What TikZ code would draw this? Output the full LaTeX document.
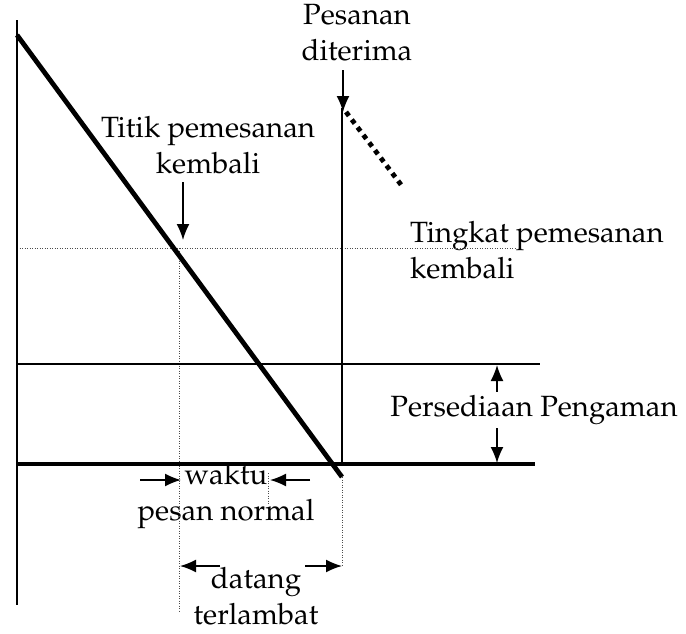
\documentclass[tikz,border=0pt]{standalone}
\usepackage[T1]{fontenc}
\usepackage{mathpazo}
\usetikzlibrary{arrows.meta}
\begin{document}
\begin{tikzpicture}[x=1pt,y=-1pt,
  lbl/.style={font=\fontsize{29.3}{36}\selectfont, align=center, inner sep=0pt},
  arr/.style={-{Latex[length=16pt,width=13pt]}, line width=1.6pt},
  thin dots/.style={line width=0.8pt, draw=black!70, dash pattern=on 1pt off 1.5pt},
  axis/.style={line width=2.2pt},
  thick axis/.style={line width=3.4pt}]
\useasboundingbox (0,0) rectangle (686,633);
% coordinates
\coordinate (axT) at (17,20);
\coordinate (axB) at (17,605);
\coordinate (dT) at (17,35);
\coordinate (dB) at (342,477);
\coordinate (vT) at (342,108);
\coordinate (vB) at (342,466);
\coordinate (ss1) at (17,364);
\coordinate (ss2) at (540,364);
\coordinate (bl1) at (17,464);
\coordinate (bl2) at (535,464);
\coordinate (rl1) at (17,248);
\coordinate (rl2) at (515,248);
\coordinate (rv1) at (179,248);
\coordinate (rv2) at (179,612);
\coordinate (nv1) at (268,473);
\coordinate (nv2) at (268,505);
\coordinate (lv1) at (342,477);
\coordinate (lv2) at (342,566);
\coordinate (ot1) at (346,112);
\coordinate (ot2) at (402,186);
% texts
\node[lbl] (pes) at (357,33) {Pesanan\\diterima};
\node[lbl] (titik) at (208,145) {Titik pemesanan\\kembali};
\node[lbl, align=left, anchor=west] (ting) at (410,250) {Tingkat pemesanan\\kembali};
\node[lbl] (waktu) at (226,496) {waktu\\pesan normal};
\node[lbl] (datang) at (256,596) {datang\\terlambat};
% arrows endpoints
\coordinate (a1s) at (343,70);
\coordinate (a1e) at (343,112);
\coordinate (a2s) at (183,182);
\coordinate (a2e) at (183,240);
\coordinate (w1s) at (140,480);
\coordinate (w1e) at (181,480);
\coordinate (w2s) at (310,480);
\coordinate (w2e) at (270,480);
\coordinate (d1s) at (220,566);
\coordinate (d1e) at (180,566);
\coordinate (d2s) at (305,566);
\coordinate (d2e) at (342,566);
\coordinate (sa) at (497,365);
\coordinate (sb) at (497,463);
% dotted guides
\draw[thin dots] (rl1) -- (rl2);
\draw[thin dots] (rv1) -- (rv2);
\draw[thin dots] (nv1) -- (nv2);
\draw[thin dots] (lv1) -- (lv2);
% axes and lines
\draw[axis] (axT) -- (axB);
\draw[axis] (vT) -- (vB);
\draw[axis] (ss1) -- (ss2);
\draw[thick axis] (bl1) -- (bl2);
\draw[line width=4.8pt] (dT) -- (dB);
\draw[line width=4.8pt, dash pattern=on 4.8pt off 4.8pt] (ot1) -- (ot2);
% safety stock double arrow
\draw[{Latex[length=16pt,width=13pt]}-{Latex[length=16pt,width=13pt]}, line width=1.6pt] (sa) -- (sb);
\node[lbl, fill=white, inner sep=3pt] (ps) at (534,410) {Persediaan Pengaman};
% arrows
\draw[arr] (a1s) -- (a1e);
\draw[arr] (a2s) -- (a2e);
\draw[arr] (w1s) -- (w1e);
\draw[arr] (w2s) -- (w2e);
\draw[arr] (d1s) -- (d1e);
\draw[arr] (d2s) -- (d2e);
\end{tikzpicture}
\end{document}
